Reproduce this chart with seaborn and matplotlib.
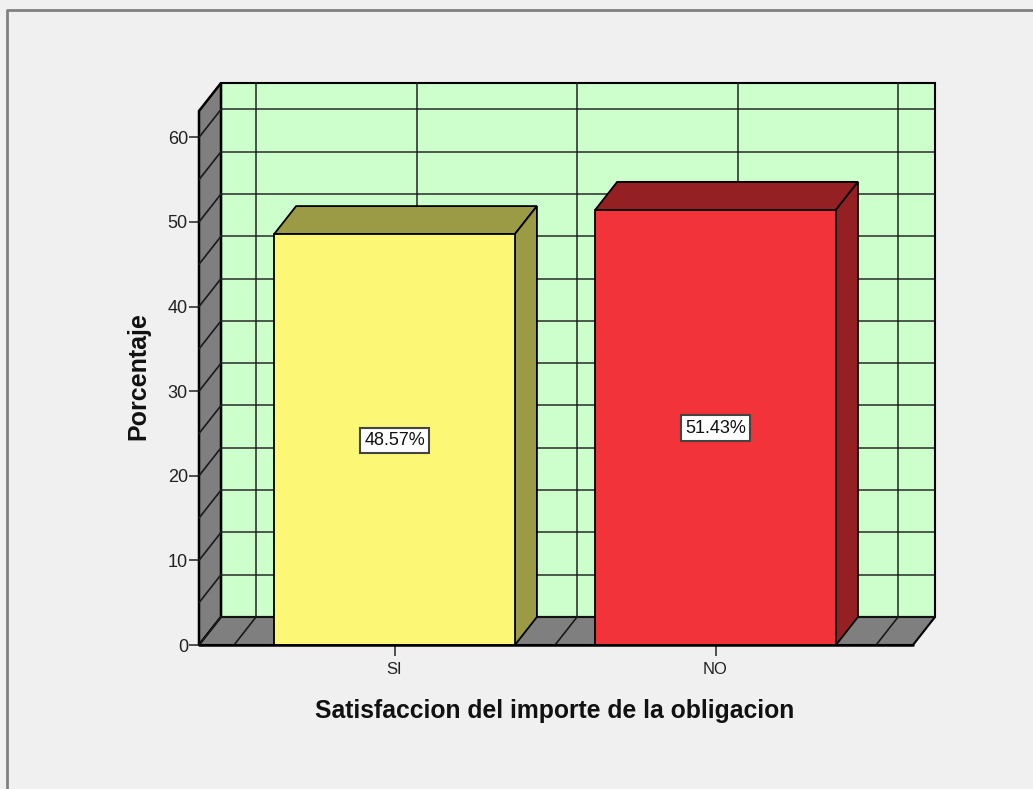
import matplotlib
matplotlib.use('Agg')
import matplotlib.pyplot as plt
from matplotlib.lines import Line2D
import pandas as pd
import seaborn as sns

categories = ['SI', 'NO']
porcentajes = [48.57, 51.43]
etiquetas = ['48.57%', '51.43%']
y_ticks = [0, 10, 20, 30, 40, 50, 60]
grid_y = [0, 5, 10, 15, 20, 25, 30, 35, 40, 45, 50, 55, 60]
grid_x = [-0.5, 0, 0.5, 1, 1.5]

W, H = 1033, 789
BG = '#f0f0f0'
WALL = '#ccffcc'
GRAY = '#7f7f7f'
LINE = '#1a1a1a'
FRONT = ['#fcf775', '#f23339']
TOP = ['#9c9b45', '#952024']

sns.set_style('white')
plt.rcParams['font.family'] = ['Liberation Sans', 'DejaVu Sans']

fig = plt.figure(figsize=(W / 100, H / 100), dpi=100, facecolor=BG)
ax = fig.add_axes([199 / W, (H - 645) / H, 714 / W, 534 / H])
ax.set_facecolor('none')

df = pd.DataFrame({'cat': categories, 'pct': porcentajes})
sns.barplot(data=df, x='cat', y='pct', hue='cat', palette=FRONT, width=0.75, saturation=1,
            edgecolor='black', linewidth=1.3, legend=False, ax=ax)

x0, x1 = -0.609, 1.615
y0, y1 = 0, 63.12
ax.set_xlim(x0, x1)
ax.set_ylim(y0, y1)

# profundidad del efecto 3D en unidades de datos
dx = 22 / 321
dy = 28 / 8.46

# pared de fondo, lateral y suelo
ax.fill([x0 + dx, x1 + dx, x1 + dx, x0 + dx], [y0 + dy, y0 + dy, y1 + dy, y1 + dy],
        fc=WALL, ec='black', lw=1.5, zorder=1, clip_on=False)
ax.fill([x0, x0 + dx, x0 + dx, x0], [y0, y0 + dy, y1 + dy, y1],
        fc=GRAY, ec='black', lw=1.8, zorder=1.2, clip_on=False)
ax.fill([x0, x1, x1 + dx, x0 + dx], [y0, y0, y0 + dy, y0 + dy],
        fc=GRAY, ec='black', lw=1.5, zorder=1.2, clip_on=False)

for v in grid_y:
    ax.plot([x0 + dx, x1 + dx], [v + dy, v + dy], color=LINE, lw=1.2, alpha=0.85, zorder=1.5, clip_on=False)
    ax.plot([x0, x0 + dx], [v, v + dy], color=LINE, lw=1.2, zorder=1.5, clip_on=False)
for g in grid_x:
    ax.plot([g + dx, g + dx], [y0 + dy, y1 + dy], color=LINE, lw=1.4, alpha=0.75, zorder=1.5, clip_on=False)
    ax.plot([g, g + dx], [y0, y0 + dy], color=LINE, lw=1.2, zorder=1.5, clip_on=False)

# caras superior y lateral de cada barra
for i, bar in enumerate(ax.patches[:len(categories)]):
    l, r, h = bar.get_x(), bar.get_x() + bar.get_width(), bar.get_height()
    bar.set_zorder(3)
    ax.fill([l, r, r + dx, l + dx], [h, h, h + dy, h + dy], fc=TOP[i], ec='black', lw=1.3, zorder=2.8)
    ax.fill([r, r + dx, r + dx, r], [0, dy, h + dy, h], fc=TOP[i], ec='black', lw=1.3, zorder=2.8)
    ax.text(i, h / 2 - 0.1, etiquetas[i], ha='center', va='center', fontsize=13, color='#111111', zorder=5,
            bbox=dict(boxstyle='square,pad=0.24', fc='white', ec='#444444', lw=1.5))

sns.despine(ax=ax, left=True, bottom=True, top=True, right=True)
ax.plot([x0, x1], [0, 0], color='black', lw=1.8, zorder=4, clip_on=False)

ax.set_yticks(y_ticks)
ax.set_xticks(range(len(categories)), categories)
ax.tick_params(axis='y', left=True, length=7, width=1.2, color='#333333', labelsize=13, pad=1, labelcolor='#222222')
ax.tick_params(axis='x', bottom=True, length=8, width=1.2, color='#333333', labelsize=12, pad=4.5, labelcolor='#222222')

fig.text(138 / W, 1 - 376 / H, 'Porcentaje', rotation=90, ha='center', va='center',
         fontsize=18, fontweight='bold', color='#111111')
ax.set_xlabel('')
ax.set_ylabel('')
fig.text(555 / W, 1 - 711 / H, 'Satisfaccion del importe de la obligacion', ha='center', va='center',
         fontsize=17.8, fontweight='bold', color='#111111')

# marco de la ventana
fig.add_artist(Line2D([7 / W, 7 / W, 1], [0, 1 - 10 / H, 1 - 10 / H], color='#808080', lw=2))

plt.savefig('out.png', dpi=100, facecolor=BG)
